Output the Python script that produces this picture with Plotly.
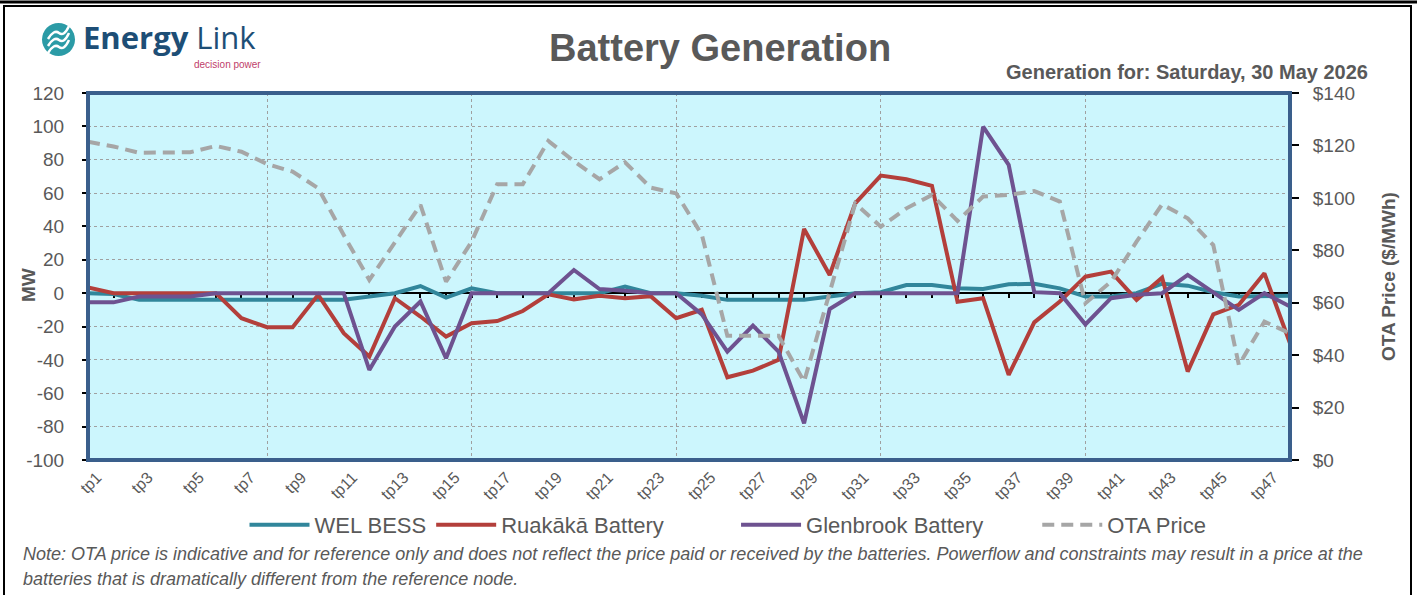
import plotly.graph_objects as go

categories = ["tp%d" % i for i in range(1, 49)]

wel_bess = [0, -0.5, -4, -4, -4, -4, -4, -4, -4, -4, -4, -2, 0, 4.3, -2.7, 2.9,
            0, 0, 0, 0, 0, 3.9, 0, 0, -1.5, -4, -4, -4, -4, -2, 0, 0.6,
            4.9, 4.9, 3, 2.5, 5.3, 5.7, 2.9, -2, -2, 0, 5.7, 4.5, 0.6, -2, -1.5, -1.5]

ruakaka = [3.5, 0, 0, 0, 0, 0, -15, -20.4, -20.4, -1, -24, -38, -3, -14, -26, -18,
           -16.7, -10.7, -0.7, -3.7, -1.5, -3, -1.8, -15, -10, -50.4, -46.4, -40, 38.5, 10.9, 53.9, 70.5,
           68.3, 64.3, -5.1, -3, -49, -17.5, -5, 9.9, 12.9, -4, 9.3, -47, -12.7, -7, 11.9, -30]

glenbrook = [-5.5, -5.5, -2, -2, -2, 0, 0, 0, 0, 0, 0, -46, -20, -5, -39, 0,
             0, 0, 0, 13.9, 2.5, 1.5, 0, 0, -12.7, -35, -19.5, -35, -78, -9.5, 0, 0,
             0, 0, 0, 99.8, 76.9, 0.6, 0, -18.7, -3, -1, 0, 11, 0.7, -10, 0, -8]

ota_price = [121.4, 119.6, 117.2, 117.2, 117.4, 119.8, 117.6, 112.9, 110.0, 103.7, 85.8, 68.7, 82.8, 97.3, 68.0, 83.3,
             105.2, 105.2, 121.7, 114.0, 107.1, 113.6, 103.9, 101.7, 86.0, 47.4, 47.4, 47.4, 29.9, 64.5, 97.9, 89.0,
             96.0, 101.1, 91.2, 100.5, 101.1, 102.6, 98.6, 59.8, 68.0, 83.3, 97.5, 92.2, 82.0, 36.2, 52.8, 48.3]

series_names = ["WEL BESS", "Ruakākā Battery", "Glenbrook Battery", "OTA Price"]
mw_ticks = list(range(-100, 121, 20))
mw_ticktext = [str(v) for v in mw_ticks]
price_ticks = list(range(0, 141, 20))
price_ticktext = ["$%d" % v for v in price_ticks]

W, H = 1417, 595
L, R, T, B = 88, 1290, 93, 460


def px(x):
    return (x - L) / (R - L)


def py(y):
    return (B - y) / (B - T)


GREY = "#595959"
SANS = "Liberation Sans, Arial, sans-serif"
NBSP = "\u00a0"
legend_pad = [0, 11, 8, 0]

fig = go.Figure()
colors = ["#31869B", "#B33F3B", "#6E5290", "#A6A6A6"]
values = [wel_bess, ruakaka, glenbrook, ota_price]
for i, (name, vals, col) in enumerate(zip(series_names, values, colors)):
    fig.add_trace(go.Scatter(
        x=categories, y=vals, name=name + NBSP * legend_pad[i], mode="lines",
        yaxis="y2" if i == 3 else "y",
        line=dict(color=col, width=4, dash="12px,7px" if i == 3 else "solid")))
# helper traces for the zero-line ticks and vertical gridlines
fig.add_trace(go.Scatter(x=[0, len(categories) - 1], y=[None, None], xaxis="x2",
                         showlegend=False, hoverinfo="skip"))
fig.add_trace(go.Scatter(x=[0, len(categories) - 1], y=[None, None], xaxis="x3",
                         showlegend=False, hoverinfo="skip"))

n = len(categories)
fig.update_layout(
    width=W, height=H,
    margin=dict(l=L, r=W - R, t=T, b=H - B, autoexpand=False),
    paper_bgcolor="white",
    plot_bgcolor="#CCF6FD",
    showlegend=True,
    legend=dict(orientation="h", x=px(728), xanchor="center", y=py(525), yanchor="middle",
                font=dict(family=SANS, size=22, color=GREY), itemwidth=60,
                bgcolor="rgba(0,0,0,0)"),
    xaxis=dict(type="category", categoryarray=categories, range=[0, n - 1], automargin=False,
               tickvals=categories[::2], ticktext=categories[::2], tickangle=-45,
               tickfont=dict(family=SANS, size=16, color=GREY), ticklabelshift=9,
               ticklabelstandoff=4,
               showgrid=False, zeroline=False, showline=False, ticks=""),
    xaxis2=dict(overlaying="x", anchor="free", position=100 / 220,
                range=[0, n - 1], tick0=0, dtick=1, ticks="outside", ticklen=4, tickwidth=1.5,
                tickcolor="black", showticklabels=False, showgrid=False, zeroline=False,
                showline=False, layer="below traces", automargin=False),
    xaxis3=dict(overlaying="x", anchor="y", range=[0, n - 1], tick0=7, dtick=8,
                showticklabels=False, ticks="", showgrid=True, gridcolor="#A0A0A0",
                griddash="dot", gridwidth=1, zeroline=False, showline=False, automargin=False),
    yaxis=dict(range=[-100, 120], tickvals=mw_ticks, ticktext=mw_ticktext, ticks="outside", ticklen=5,
               tickcolor="black", tickwidth=2, automargin=False,
               tickfont=dict(family=SANS, size=19, color=GREY),
               showgrid=True, gridcolor="#A0A0A0", griddash="dot", gridwidth=1,
               zeroline=True, zerolinecolor="black", zerolinewidth=2,
               ticklabelstandoff=14),
    yaxis2=dict(range=[0, 140], tickvals=price_ticks, ticktext=price_ticktext, overlaying="y", side="right",
                ticks="outside", ticklen=8, tickcolor="black", tickwidth=2, automargin=False,
                tickfont=dict(family=SANS, size=19, color=GREY), showgrid=False, zeroline=False,
                ticklabelstandoff=10),
)

shapes = []
# plot border
shapes.append(dict(type="rect", xref="paper", yref="paper", x0=0, x1=1, y0=0, y1=1,
                   line=dict(color="#3A5F8C", width=4), layer="above"))
# outer frame
shapes.append(dict(type="line", xref="paper", yref="paper", x0=px(0), x1=px(W), y0=py(2), y1=py(2),
                   line=dict(color="black", width=3)))
shapes.append(dict(type="rect", xref="paper", yref="paper", x0=px(4), x1=px(1411), y0=py(600), y1=py(6),
                   line=dict(color="black", width=2)))
# logo icon
shapes.append(dict(type="circle", xref="paper", yref="paper", x0=px(42), x1=px(75), y0=py(56), y1=py(23),
                   fillcolor="#2B9BA6", line=dict(width=0)))
for dy in (-7, 0, 7):
    path = "M %f,%f Q %f,%f %f,%f Q %f,%f %f,%f" % (
        px(48), py(46 + dy), px(54), py(36 + dy), px(59), py(40 + dy),
        px(64), py(44 + dy), px(69), py(33 + dy))
    shapes.append(dict(type="path", xref="paper", yref="paper", path=path,
                       line=dict(color="white", width=2.5)))
fig.update_layout(shapes=shapes)

annotations = [
    dict(text="<b>Energy</b> Link", x=px(81), y=py(37), xanchor="left", yanchor="middle",
         font=dict(family="Open Sans, sans-serif", size=31, color="#1D4E76")),
    dict(text="decision power", x=px(263), y=py(64), xanchor="right", yanchor="middle",
         font=dict(family=SANS, size=10, color="#C0406A")),
    dict(text="<b>Battery Generation</b>", x=px(720), y=py(48), xanchor="center", yanchor="middle",
         font=dict(family=SANS, size=38, color=GREY)),
    dict(text="<b>Generation for: Saturday, 30 May 2026</b>", x=px(1370), y=py(72),
         xanchor="right", yanchor="middle", font=dict(family=SANS, size=20, color=GREY)),
    dict(text="<b>MW</b>", x=px(28), y=py(285), xanchor="center", yanchor="middle", textangle=-90,
         font=dict(family=SANS, size=19, color=GREY)),
    dict(text="<b>OTA Price ($/MWh)</b>", x=px(1388), y=py(277), xanchor="center", yanchor="middle",
         textangle=-90, font=dict(family=SANS, size=19, color=GREY)),
    dict(text="<i>Note: OTA price is indicative and for reference only and does not reflect the price paid or received by the batteries. Powerflow and constraints may result in a price at the</i>",
         x=px(21), y=py(554), xanchor="left", yanchor="middle",
         font=dict(family=SANS, size=18, color=GREY)),
    dict(text="<i>batteries that is dramatically different from the reference node.</i>",
         x=px(21), y=py(579), xanchor="left", yanchor="middle",
         font=dict(family=SANS, size=18, color=GREY)),
]
for a in annotations:
    a.update(xref="paper", yref="paper", showarrow=False)
fig.update_layout(annotations=annotations)

fig.write_html("out.html", config={"displayModeBar": False},
               post_script="document.body.style.margin='0';document.body.style.overflow='hidden';")
